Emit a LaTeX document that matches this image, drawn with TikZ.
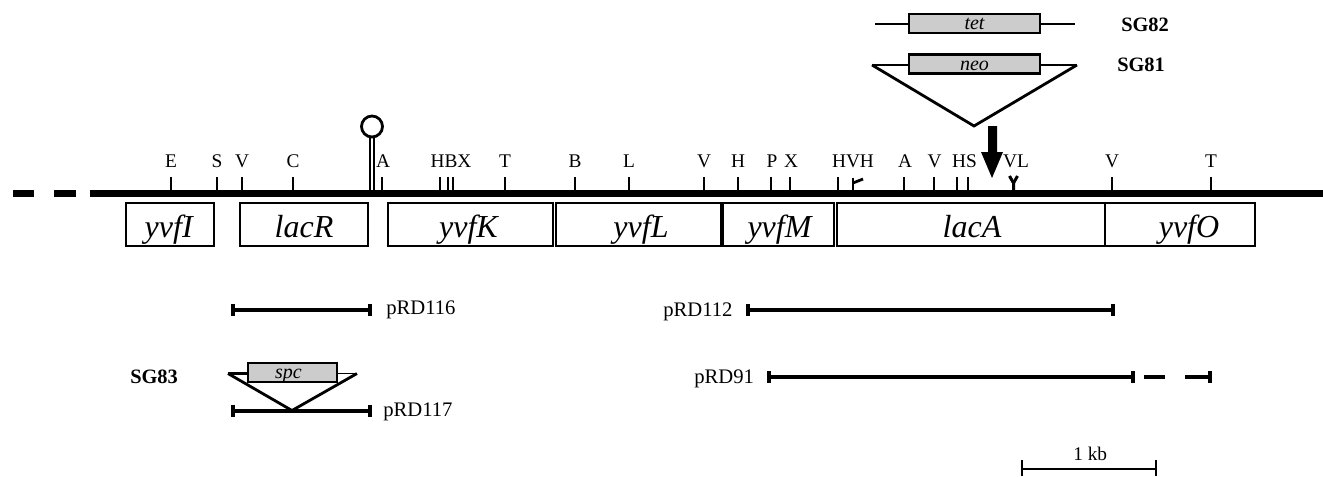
\documentclass[tikz,border=0pt]{standalone}
\usepackage{fontspec}
\setmainfont{Liberation Serif}
\definecolor{marker}{gray}{0.80}
\tikzset{
  x=0.75pt,y=-0.75pt,
  px/.style={line width=#1*0.75pt},
  gene/.style={draw,px=2.2,outer sep=0pt,inner sep=0pt,minimum height=32.25pt,text height=25.5pt,text depth=6.75pt,font=\fontsize{24}{24}\selectfont\itshape,anchor=north west},
  site/.style={font=\fontsize{14.5}{14.5}\selectfont,inner sep=0pt,anchor=base},
  sitetick/.style={px=2},
  chrom/.style={px=7},
  cass/.style={draw,px=2.6,fill=marker,outer sep=0pt,inner sep=0pt,minimum height=14.25pt,text height=11.65pt,text depth=2.6pt,font=\fontsize{15}{15}\selectfont\itshape},
  strain/.style={font=\fontsize{15.3}{15.3}\selectfont\bfseries,inner sep=0pt,anchor=base west},
  plab/.style={font=\fontsize{15.5}{15.5}\selectfont,inner sep=0pt,anchor=base west},
  frag/.style={px=4},
  endcap/.style={px=4.5},
  wire/.style={px=2},
  veeline/.style={px=2.8,line join=miter},
}
\newcommand{\sitemark}[3]{%
  \node[site] at (#1,167.5) {#2};
  \coordinate (t#3) at (#1,177);
  \coordinate (b#3) at (#1,190);
  \draw[sitetick] (t#3) -- (b#3);
}
\newcommand{\fragment}[4]{%
  \coordinate (#1a) at (#2,#4);
  \coordinate (#1b) at (#3,#4);
  \draw[frag] (#1a) -- (#1b);
  \draw[endcap] ([yshift=4.5pt]#1a) -- ([yshift=-4.5pt]#1a);
  \draw[endcap] ([yshift=4.5pt]#1b) -- ([yshift=-4.5pt]#1b);
}
\begin{document}
\begin{tikzpicture}
\useasboundingbox (0,0) rectangle (1323,476);
% chromosome
\coordinate (c0) at (13,193.3); \coordinate (c1) at (34,193.3);
\coordinate (c2) at (54,193.3); \coordinate (c3) at (76,193.3);
\coordinate (c4) at (90,193.3); \coordinate (c5) at (1323,193.3);
\draw[chrom] (c0) -- (c1);
\draw[chrom] (c2) -- (c3);
\draw[chrom] (c4) -- (c5);
% sites
\sitemark{171}{E}{a}
\sitemark{217}{S}{b}
\sitemark{242}{V}{c}
\sitemark{293}{C}{d}
\sitemark{505}{T}{i}
\sitemark{575}{B}{j}
\sitemark{629}{L}{k}
\sitemark{704}{V}{l}
\sitemark{738}{H}{m}
\sitemark{1112}{V}{y}
\sitemark{1211}{T}{z}
\node[site] at (383,167.5) {A};
\draw[sitetick] (381.5,177) -- (381.5,190);
\node[site] at (772,167.5) {P};
\draw[sitetick] (771,177) -- (771,190);
\node[site] at (791,167.5) {X};
\draw[sitetick] (790,177) -- (790,190);
\node[site] at (451,167.5) {HBX};
\draw[sitetick] (440,177) -- (440,190);
\draw[sitetick] (448,177) -- (448,190);
\draw[sitetick] (453,177) -- (453,190);
\node[site] at (853,167.5) {HVH};
\draw[sitetick] (838,177) -- (838,190);
\draw[px=2.6] (853,178) -- (853,190);
\draw[px=2.8] (853,183) -- (863,179);
\node[site] at (905,167.5) {A};
\draw[sitetick] (903.5,177) -- (903.5,190);
\node[site] at (934.5,167.5) {V};
\draw[px=2.4] (934,177) -- (934,190);
\node[site] at (964.5,167.5) {HS};
\draw[sitetick] (957,177) -- (957,190);
\draw[sitetick] (968,177) -- (968,190);
\node[site] at (1016,167.5) {VL};
\draw[px=3] (1013.5,190) -- (1013.5,183) -- (1009.5,176);
\draw[px=3] (1013.5,183) -- (1017.5,176);
% terminator
\node[draw,circle,px=2.8,outer sep=0pt,minimum size=15.75pt,inner sep=0pt] (loop) at (372,126.5) {};
\draw[px=2.4] (370,137) -- (370,190);
\draw[px=2.4] (374,137) -- (374,190);
% genes
\node[gene,px=2.8,minimum width=66pt] (g1) at (126,203) {yvfI\hspace*{2pt}};
\node[gene,px=2.8,minimum width=96pt] (g2) at (240,203) {lacR};
\node[gene,px=2.8,minimum width=123.75pt] (g3) at (388,203) {yvfK\hspace*{3pt}};
\node[gene,minimum width=123.75pt] (g4) at (556,203) {\hspace*{3.75pt}yvfL};
\node[gene,minimum width=83.25pt] (g5) at (723,203) {\hspace*{1.5pt}yvfM};
\node[gene,minimum width=201pt] (g6) at (837,203) {\hspace*{1.5pt}lacA};
\node[gene,minimum width=112.5pt] (g7) at (1105,203) {\hspace*{13.5pt}yvfO};
% tet
\node[cass,minimum width=98.25pt] (tet) at (974.5,23.5) {tet};
\coordinate (tl) at (875,24); \coordinate (tr) at (1075,24);
\draw[wire] (tl) -- (tet.west |- tl); \draw[wire] (tet.east |- tr) -- (tr);
\node[strain] at (1121,31.5) {SG82};
% neo
\node[cass,minimum width=98.25pt] (neo) at (974.5,64) {neo};
\coordinate (nl) at (872,65); \coordinate (nr) at (1077,65); \coordinate (nb) at (974,126);
\draw[veeline] (nl) -- (neo.west |- nl);
\draw[veeline] (neo.east |- nr) -- (nr);
\draw[veeline] (nl) -- (nb) -- (nr);
\node[strain] at (1117,71.5) {SG81};
% arrow
\coordinate (ar1) at (992,178);
\fill (988,126) -- (997,126) -- (997,152) -- (1003,152) -- (ar1) -- (981,152) -- (988,152) -- cycle;
% fragments
\fragment{p1}{233}{370}{310}
\node[plab] at (386,314) {pRD116};
\fragment{p2}{748}{1113}{310}
\node[plab] at (663,316) {pRD112};
\fragment{p3}{769}{1133}{377}
\draw[frag] (1144,377) -- (1165,377);
\draw[frag] (1185,377) -- (1211,377);
\draw[endcap] (1210,371) -- (1210,383);
\node[plab] at (694,383) {pRD91};
\node[strain] at (130,383) {SG83};
% spc
\node[cass,minimum width=66.75pt] (spc) at (292.5,372.5) {\hspace*{-3pt}spc\hspace*{3pt}};
\coordinate (sl) at (228,373.5); \coordinate (sr) at (357,373.5); \coordinate (sb) at (292,410.5);
\draw[veeline] (sl) -- (spc.west |- sl);
\draw[veeline,px=1.2] (spc.east |- sr) -- (sr);
\draw[veeline] (sl) -- (sb) -- (sr);
\fragment{p4}{233}{370}{410.5}
\node[plab] at (383,416.5) {pRD117};
% scale
\coordinate (s1) at (1022,469); \coordinate (s2) at (1156,469);
\draw[px=2] (s1) -- (s2);
\draw[px=2.2] ([yshift=6.5pt]s1) -- ([yshift=-5.5pt]s1);
\draw[px=2.2] ([yshift=6.5pt]s2) -- ([yshift=-5.5pt]s2);
\node[plab,font=\fontsize{14.5}{14.5}\selectfont] at (1073,460) {1 kb};
\end{tikzpicture}
\end{document}
